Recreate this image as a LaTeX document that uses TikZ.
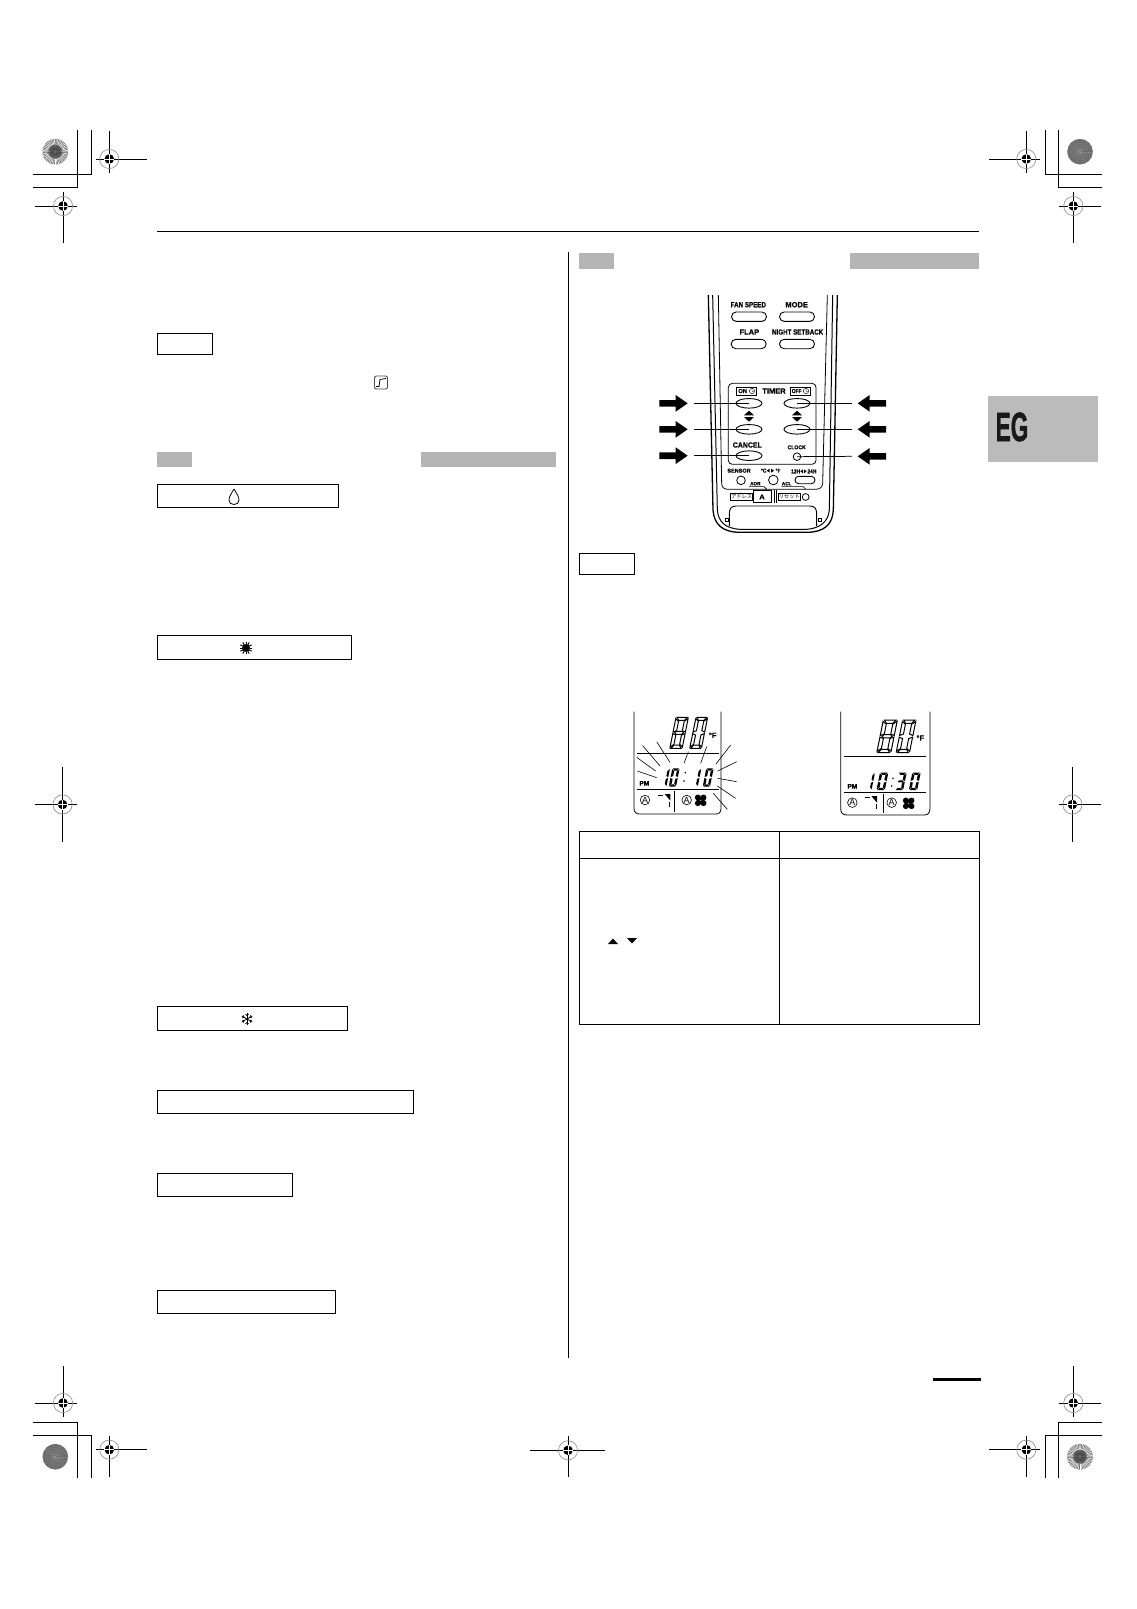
\documentclass[tikz,border=0pt]{standalone}
\usepackage{fontspec}
\setmainfont{Liberation Sans}
\newfontfamily\jpfont{Noto Sans CJK JP}
\newfontfamily\remfont[BoldFeatures={FakeBold=0.4}]{Liberation Sans}
\newfontfamily\egfont[BoldFeatures={FakeBold=1.6}]{Liberation Sans}
\usetikzlibrary{shapes.geometric,shapes.misc}
\definecolor{bargray}{HTML}{B5B5B5}
\definecolor{tabgray}{HTML}{BBBBBB}
\definecolor{ringgray}{HTML}{8A8A8A}
\definecolor{darkdisc}{HTML}{6A6A6A}
\newcommand\rtxt[3]{{\remfont\fontsize{#1}{#1}\selectfont\bfseries\scalebox{#2}[1]{#3}}}
% crop / registration mark
\newcommand\regmark[6]{%
  \draw[cropline] (#3,#2) -- (#4,#2);
  \draw[cropline] (#1,#5) -- (#1,#6);
  \draw[ringgray,line width=.6pt] (#1,#2) circle (9.6);
  \fill (#1,#2) circle (4.8);
  \draw[white,line width=.45pt] (#1-5,#2) -- (#1+5,#2) (#1,#2-5) -- (#1,#2+5);
}
\newcommand\radialdisc[2]{%
  \fill[gray!60] (#1,#2) circle (12.8);
  \foreach \a in {0,4,...,356}{\draw[black!70,line width=.4pt] (#1,#2)++(\a:1.5) -- ++(\a:11.3);}
  \foreach \a in {2,10,...,354}{\draw[white,line width=.5pt] (#1,#2)++(\a:7) -- ++(\a:5.8);}
  \fill[black!60] (#1,#2) circle (1.6);
}
\newcommand\noisydisc[2]{%
  \fill[darkdisc] (#1,#2) circle (12.8);
  \foreach \a in {0,7,...,353}{\draw[gray!80,line width=.3pt,dash pattern=on .7pt off 1.3pt] (#1,#2) -- ++(\a:12.6);}
}
% seven segment digit: x,y,w,h,k,list; segment thickness from \segtx and \segty
\newcommand\segtx{.3}
\newcommand\segty{.22}
\newcommand\segdigit[7][segblack]{%
  \begin{scope}[shift={(#2,#3)},xscale=#4,yscale=#5,xslant=#6]
  \foreach \s in {#7}{%
    \if\s a\path[#1] (.08,0)--(.92,0)--({1-\segtx},\segty)--(\segtx,\segty)--cycle;\fi
    \if\s d\path[#1] (.08,2)--(.92,2)--({1-\segtx},{2-\segty})--(\segtx,{2-\segty})--cycle;\fi
    \if\s g\path[#1] (.14,1)--(\segtx,{1-\segty/2})--({1-\segtx},{1-\segty/2})--(.86,1)--({1-\segtx},{1+\segty/2})--(\segtx,{1+\segty/2})--cycle;\fi
    \if\s f\path[#1] (0,.08)--(\segtx,{\segty+.06})--(\segtx,{.96-\segty/2})--(0,.95)--cycle;\fi
    \if\s e\path[#1] (0,1.05)--(\segtx,{1.04+\segty/2})--(\segtx,{1.94-\segty})--(0,1.92)--cycle;\fi
    \if\s b\path[#1] (1,.08)--({1-\segtx},{\segty+.06})--({1-\segtx},{.96-\segty/2})--(1,.95)--cycle;\fi
    \if\s c\path[#1] (1,1.05)--({1-\segtx},{1.04+\segty/2})--({1-\segtx},{1.94-\segty})--(1,1.92)--cycle;\fi
  }
  \end{scope}
}
\newcommand\fanicon[2]{%
  \foreach \a in {45,135,225,315}{%
    \begin{scope}[shift={(#1,#2)},rotate=\a]\fill (11,0) ellipse (10 and 9);\end{scope}}
}
\newcommand\flapicon[2]{%
  \draw[line width=.8pt] (#1-25,#2-15) -- (#1-10,#2-15);
  \fill (#1-6,#2-18) -- (#1+11,#2-18) -- (#1+11,#2+2) -- cycle;
  \draw[line width=.6pt] (#1+9,#2+5) -- (#1+9,#2+22);
}
% block arrow: tip x, y, direction (+1 points right, -1 points left)
\newcommand\blockarrow[3]{%
  \fill (#1,#2) -- (#1-36*#3,#2-25) -- (#1-36*#3,#2-10) -- (#1-85*#3,#2-10)
     -- (#1-85*#3,#2+10) -- (#1-36*#3,#2+10) -- (#1-36*#3,#2+25) -- cycle;
}
\tikzset{
  cropline/.style={line width=.9pt},
  rule/.style={line width=.65pt},
  labelbox/.style={draw,line width=.9pt},
  pillbtn/.style={draw,rounded rectangle,line width=.9pt,minimum width=35pt,minimum height=9.4pt,inner sep=0},
  ellbtn/.style={draw,ellipse,line width=.9pt,minimum width=26pt,minimum height=9.6pt,inner sep=0},
  roundbtn/.style={draw,circle,line width=.8pt,inner sep=0},
  rlabel/.style={inner sep=0,text=black},
  connector/.style={line width=.75pt},
  segblack/.style={fill=black},
  segopen/.style={fill=white,draw=black,line width=1pt},
  lcdline/.style={line width=.8pt},
  raystroke/.style={line width=.6pt},
  circA/.style={draw,circle,line width=.6pt,inner sep=0,minimum size=9.6pt,font=\fontsize{9}{9}\selectfont},
}
\begin{document}
\begin{tikzpicture}[x=1pt,y=-1pt,line cap=butt]
\useasboundingbox (0,0) rectangle (1136,1609);
\fill[white] (0,0) rectangle (1136,1609);

% ---- printer marks
\draw[cropline] (77.3,130) -- (77.3,187) -- (33,187);
\draw[cropline] (91.3,130) -- (91.3,174) -- (33,174);
\draw[cropline] (1058.3,130) -- (1058.3,187) -- (1102,187);
\draw[cropline] (1045.3,130) -- (1045.3,174) -- (1102,174);
\draw[cropline] (77.3,1478) -- (77.3,1422.3) -- (33,1422.3);
\draw[cropline] (91.3,1478) -- (91.3,1435.3) -- (33,1435.3);
\draw[cropline] (1058.3,1478) -- (1058.3,1422.3) -- (1102,1422.3);
\draw[cropline] (1045.3,1478) -- (1045.3,1435.3) -- (1102,1435.3);
\radialdisc{55.3}{151.7}
\noisydisc{1080}{151.7}
\noisydisc{55.3}{1456.7}
\radialdisc{1080}{1456.7}
\regmark{109.3}{159}{96}{146.7}{131}{172.7}
\regmark{63}{206}{35}{76.7}{192}{242.7}
\regmark{1026.3}{159}{989}{1040}{131}{173}
\regmark{1073.3}{206}{1059}{1101}{192}{243}
\regmark{63}{1403}{35}{76.7}{1366}{1417}
\regmark{109.3}{1449.7}{96}{146.7}{1436}{1477}
\regmark{1073.3}{1403}{1059}{1101}{1366}{1417}
\regmark{1026.3}{1449.7}{989}{1040}{1436}{1477}
\regmark{62.6}{804.5}{35}{77}{767}{841.5}
\regmark{1072.4}{804.5}{1059}{1101}{767}{841.5}
\regmark{568}{1450.3}{530}{605}{1436}{1477}

% ---- page rules
\draw[rule] (157,231) -- (979,231);
\draw[line width=1pt] (568.3,252) -- (568.3,1358.3);
\fill[black] (933,1377.6) rectangle (981,1380.6);

% ---- grey bars and tab
\fill[bargray] (157,452) rectangle (192,467);
\fill[bargray] (421,452) rectangle (556,467);
\fill[bargray] (579,253) rectangle (614,269);
\fill[bargray] (850,253) rectangle (979,269);
\fill[tabgray] (988,396) rectangle (1098,462);
\node[inner sep=0,text=black!90] (egtab) at (1012,427) {{\egfont\fontsize{41}{41}\selectfont\bfseries\scalebox{.55}[1]{EG}}};

% ---- heading boxes
\draw[labelbox] (157,333.5) rectangle (212.7,354.5);
\draw[labelbox] (157,484.5) rectangle (338.5,507);
\draw[labelbox] (157.3,635.3) rectangle (351.7,659.3);
\draw[labelbox] (157,1006.5) rectangle (347.5,1030);
\draw[labelbox] (157,1090) rectangle (413.5,1113);
\draw[labelbox] (157,1173) rectangle (292,1196.5);
\draw[labelbox] (157,1290) rectangle (335,1313.5);
\draw[labelbox] (579,553) rectangle (634.5,574.5);

% ---- small icons
\draw[rounded corners=2pt,line width=.9pt,black!70] (374.5,376) rectangle (387.5,389);
\draw[line width=.8pt] (376,386.5) -- (379,386.5) -- (380,379.5) -- (386,378.5);
\draw[line width=.8pt] (234,489) .. controls (231,494) and (229,497) .. (229,500)
  .. controls (229,503) and (231,504.5) .. (234,504.5)
  .. controls (237,504.5) and (239,503) .. (239,500)
  .. controls (239,497) and (237,494) .. (234,489);
\fill (246,648) circle (3.9);
\foreach \a in {0,30,...,330}{\draw[line width=1pt] (246,648)++(\a:3.5) -- ++(\a:2.9);}
\foreach \a in {30,90,150,210,270,330}{
  \draw[line width=.8pt] (247,1019) -- ++(\a:6);
  \draw[line width=.6pt] (247,1019)++(\a:3.4) -- ++(\a+45:2.2);
  \draw[line width=.6pt] (247,1019)++(\a:3.4) -- ++(\a-45:2.2);
}
\fill (608,944) -- (618,944) -- (613,938.5) -- cycle;
\fill (627,938) -- (637,938) -- (632,943.5) -- cycle;

% ---- table
\draw[line width=.9pt] (579.3,831.3) rectangle (979.5,1024.3);
\draw[line width=.9pt] (579.3,858.3) -- (979.5,858.3);
\draw[line width=.9pt] (779.3,831.3) -- (779.3,1024.3);

% ---- remote control
\begin{scope}[shift={(640,280)},scale=1/3]
  \draw[line width=1.3pt] (205,45) -- (219,690) .. controls (222,735) and (250,757) .. (300,757)
     -- (500,757) .. controls (550,757) and (578,735) .. (580,690) -- (592,45);
  \draw[line width=1pt] (218,45) -- (232,690) .. controls (235,725) and (255,745) .. (300,748)
     -- (500,748) .. controls (540,745) and (565,725) .. (568,690) -- (578,45);
  \draw[line width=.8pt] (235,45) -- (245,610) .. controls (245,622) and (252,628) .. (265,628)
     -- (525,628) .. controls (540,628) and (547,622) .. (548,610) -- (562,45);
  \draw[line width=.9pt] (268,738) -- (268,700) .. controls (268,686) and (275,678) .. (288,678)
     -- (510,678) .. controls (523,678) and (530,686) .. (530,700) -- (530,738);
  \draw[line width=.5pt] (255,716) rectangle (264,725) (534,716) rectangle (543,725);

  \node[rlabel] (lfan) at (325,74) {\rtxt{7.5}{.83}{FAN SPEED}};
  \node[rlabel] (lmode) at (470,74) {\rtxt{7.5}{1}{MODE}};
  \node[rlabel] (lflap) at (328,156) {\rtxt{7.5}{1}{FLAP}};
  \node[rlabel] (lnight) at (473,156) {\rtxt{7.5}{.83}{NIGHT SETBACK}};
  \node[pillbtn] (bfan) at (327,110) {};
  \node[pillbtn] (bmode) at (471,110) {};
  \node[pillbtn] (bflap) at (326,192) {};
  \node[pillbtn] (bnight) at (471,192) {};

  \draw[line width=.8pt,rounded corners=4pt] (265,310) rectangle (528,553);
  \node[rlabel] (ltimer) at (402,333) {\rtxt{7.5}{1}{TIMER}};
  \draw[line width=.6pt] (290,321) rectangle (348,345);
  \node[rlabel] (lon) at (308,333) {\rtxt{5.8}{1}{ON}};
  \draw[line width=.4pt] (336,333) circle (8) (336,333) -- (336,327) (336,333) -- (341,335);
  \draw[line width=.6pt] (450,321) rectangle (510,345);
  \node[rlabel] (loff) at (470,333) {\rtxt{5.8}{.85}{OFF}};
  \draw[line width=.4pt] (498,333) circle (8) (498,333) -- (498,327) (498,333) -- (503,335);

  \node[ellbtn] (bonup) at (327,370) {};
  \node[ellbtn] (bondn) at (327,448) {};
  \node[ellbtn] (bcancel) at (327,527) {};
  \node[ellbtn] (boffup) at (471,370) {};
  \node[ellbtn] (boffdn) at (471,448) {};
  \node[roundbtn,minimum size=7.6pt] (bclock) at (471,530) {};
  \node[rlabel] (lcancel) at (322,495) {\rtxt{7.5}{.93}{CANCEL}};
  \node[rlabel] (lclock) at (470,502) {\rtxt{5.5}{.93}{CLOCK}};
  \fill (312,406) -- (342,406) -- (327,392) -- cycle (312,411) -- (342,411) -- (327,425) -- cycle;
  \fill (456,406) -- (486,406) -- (471,392) -- cycle (456,411) -- (486,411) -- (471,425) -- cycle;

  \node[rlabel] (lsensor) at (297,572) {\rtxt{5.5}{1}{SENSOR}};
  \node[rlabel] (lcf1) at (371,572) {\rtxt{5.5}{.9}{°C}};
  \node[rlabel] (lcf2) at (414,572) {\rtxt{5.5}{.9}{°F}};
  \fill (389,566) -- (389,578) -- (380,572) -- cycle (393,566) -- (393,578) -- (402,572) -- cycle;
  \node[rlabel] (l12) at (467,574) {\rtxt{5.5}{.9}{12H}};
  \node[rlabel] (l24) at (516,574) {\rtxt{5.5}{.9}{24H}};
  \fill (489,568) -- (489,580) -- (481,574) -- cycle (492,568) -- (492,580) -- (500,574) -- cycle;
  \node[roundbtn,minimum size=8.6pt] (bsensor) at (303,601) {};
  \node[roundbtn,minimum size=9.6pt] (bcf) at (400,600) {};
  \node[draw,rounded rectangle,line width=.9pt,minimum width=20pt,minimum height=7.4pt,inner sep=0] (bhour) at (495,600) {};
  \node[rlabel] (ladr) at (346,611) {\rtxt{4.8}{1}{ADR}};
  \node[rlabel] (lacl) at (440,611) {\rtxt{4.8}{1}{ACL}};
  \draw[line width=.6pt] (327,620) -- (372,620) -- (380,628);
  \draw[line width=.6pt] (425,620) -- (490,620) -- (497,628);

  \node[draw,line width=.4pt,inner sep=.6pt,minimum width=22pt,minimum height=7pt] (badr) at (305,651) {\jpfont\fontsize{5.2}{5.2}\selectfont アドレス};
  \draw[line width=.6pt] (340,631) -- (395,631);
  \draw[line width=.6pt] (340,631) -- (340,668) (395,631) -- (395,668);
  \draw[line width=1.2pt] (342,668) -- (393,668);
  \node[rlabel] (la) at (366,651) {\rtxt{7}{1.1}{A}};
  \draw[line width=.6pt] (402,631) -- (402,670) (410,631) -- (410,670);
  \node[draw,line width=.4pt,inner sep=.6pt,minimum width=22pt,minimum height=7pt] (brst) at (448,651) {\jpfont\fontsize{5.2}{5.2}\selectfont リセット};
  \node[roundbtn,minimum size=6.8pt] (bacl) at (497,651) {};

  \coordinate (cl1) at (162,370);
  \coordinate (cl2) at (162,448);
  \coordinate (cl3) at (162,527);
  \coordinate (cr1) at (636,370);
  \coordinate (cr2) at (636,448);
  \coordinate (cr3) at (636,529);
  \draw[connector] (cl1) -- (bonup.center);
  \draw[connector] (cl2) -- (bondn.center);
  \draw[connector] (cl3) -- (bcancel.center);
  \draw[connector] (cr1) -- (boffup.center);
  \draw[connector] (cr2) -- (boffdn.center);
  \draw[connector] (cr3) -- (bclock.center);
  \blockarrow{143}{370}{1}
  \blockarrow{143}{448}{1}
  \blockarrow{143}{527}{1}
  \blockarrow{653}{370}{-1}
  \blockarrow{653}{448}{-1}
  \blockarrow{653}{529}{-1}
\end{scope}

% ---- LCD 1
\begin{scope}[shift={(610,700)},scale=1/3]
  \draw[lcdline] (72,35) -- (72,325) .. controls (72,336) and (78,342) .. (88,342) -- (318,342) .. controls (328,342) and (333,336) .. (333,325) -- (333,35);
  \draw[lcdline] (80,160) -- (327,160);
  \draw[lcdline] (80,268) -- (327,268);
  \draw[lcdline] (192,272) -- (192,335);
  \renewcommand\segtx{.27}\renewcommand\segty{.2}
  \segdigit[segopen]{198}{52}{37}{46.5}{.25}{a,b,c,d,e,f,g}
  \segdigit[segopen]{258}{52}{35}{46.5}{.27}{a,b,c,d,e,f}
  \node[rlabel] (f1) at (308,106) {\rtxt{7.5}{1}{°F}};
  \renewcommand\segtx{.32}\renewcommand\segty{.24}
  \segdigit{160}{205}{20}{27.5}{.27}{b,c}
  \segdigit{187}{205}{22}{27.5}{.25}{a,b,c,d,e,f}
  \fill (226,218) circle (2.6) (222,243) circle (2.6);
  \segdigit{254}{205}{20}{27.5}{.27}{b,c}
  \segdigit{289}{205}{22}{27.5}{.25}{a,b,c,d,e,f}
  \node[rlabel] (pm1) at (103,250) {\rtxt{6.5}{1}{PM}};
  \node[circA] (a11) at (105,300) {A};
  \node[circA] (a12) at (230,300) {A};
  \flapicon{170}{300}
  \fanicon{272}{301}
  \foreach \xa/\ya/\xb/\yb in {82/213/140/233,80/172/137/213,98/137/150/198,140/125/180/187,235/155/222/190,290/140/272/190,362/135/318/192,380/185/323/213,380/245/323/235,377/295/322/258,352/328/310/280}{
    \draw[raystroke] (\xa,\ya) -- (\xb,\yb);}
\end{scope}

% ---- LCD 2
\begin{scope}[shift={(820,700)},scale=1/3]
  \draw[lcdline] (62,35) -- (62,325) .. controls (62,338) and (68,345) .. (80,345) -- (312,345) .. controls (324,345) and (330,338) .. (330,325) -- (330,35);
  \draw[lcdline] (72,170) -- (317,170);
  \draw[lcdline] (72,278) -- (317,278);
  \draw[lcdline] (190,282) -- (190,338);
  \renewcommand\segtx{.27}\renewcommand\segty{.2}
  \segdigit[segopen]{190}{60}{42}{49}{.233}{a,b,c,d,e,f,g}
  \segdigit[segopen]{248}{60}{40}{49}{.245}{a,b,c,d,e,f}
  \node[rlabel] (f2) at (301,114) {\rtxt{7.5}{1}{°F}};
  \renewcommand\segtx{.3}\renewcommand\segty{.24}
  \segdigit{145}{218}{20}{26}{.26}{b,c}
  \segdigit{180}{218}{25}{26}{.21}{a,b,c,d,e,f}
  \fill (219,235) circle (2.6) (215,258) circle (2.6);
  \segdigit{235}{218}{25}{26}{.21}{a,b,c,d,g}
  \segdigit{277}{218}{25}{26}{.21}{a,b,c,d,e,f}
  \node[rlabel] (pm2) at (97,259) {\rtxt{6.5}{1}{PM}};
  \node[circA] (a21) at (97,308) {A};
  \node[circA] (a22) at (215,308) {A};
  \flapicon{160}{306}
  \fanicon{266}{310}
\end{scope}
\end{tikzpicture}
\end{document}
